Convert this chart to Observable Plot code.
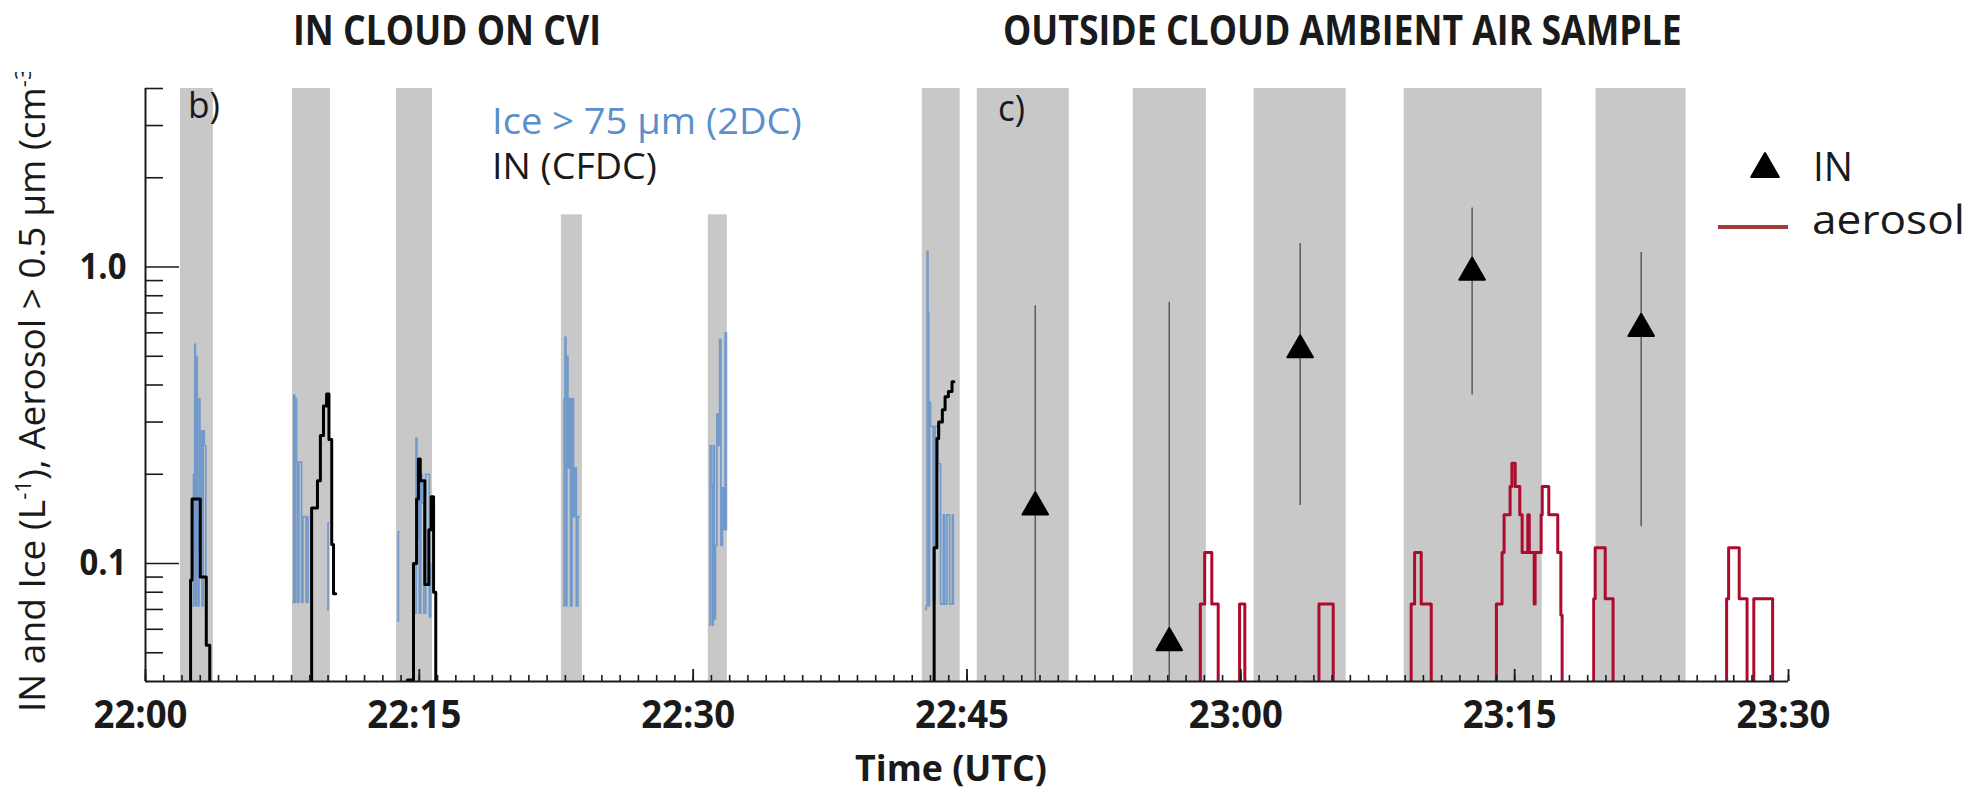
<!DOCTYPE html>
<html><head><meta charset="utf-8">
<script src="https://cdn.jsdelivr.net/npm/d3@7"></script>
<script src="https://cdn.jsdelivr.net/npm/@observablehq/plot@0.6"></script>
<style>
body{margin:0;background:#fff;}
#wrap{position:relative;width:1975px;height:793px;overflow:hidden;background:#fff;}
#wrap svg{position:absolute;left:0;top:0;}
</style></head><body><div id="wrap"></div>
<script>
// ---------- DATA (time = minutes after 22:00 UTC) ----------
// grey sampling periods
const bandStart = [1.92, 8.05, 13.75, 22.78, 30.83, 42.55, 45.56, 54.11, 60.73, 68.95, 79.46];
const bandEnd   = [3.72, 10.13, 15.72, 23.93, 31.87, 44.63, 50.60, 58.11, 65.77, 76.51, 84.39];
const bandTop   = [4, 4, 4, 1.5, 1.5, 4, 4, 4, 4, 4, 4];

// Ice > 75 µm (2DC), bursts
const iceTimes = [
  [2.60, 2.63, 2.67, 2.70, 2.73, 2.78, 2.83, 2.88, 2.93, 2.98, 3.03, 3.10, 3.16, 3.22, 3.30, 3.38],
  [8.08, 8.12, 8.17, 8.22, 8.27, 8.33, 8.40, 8.47, 8.55, 8.62, 8.70, 8.80, 8.90],
  [9.97, 10.00, 10.03],
  [13.82, 13.85, 13.88],
  [14.78, 14.82, 14.87, 14.93, 15.00, 15.08, 15.15, 15.25, 15.35, 15.45, 15.55, 15.62],
  [22.89, 22.93, 22.98, 23.03, 23.08, 23.14, 23.20, 23.28, 23.36, 23.44, 23.52, 23.60, 23.68, 23.75],
  [30.89, 30.93, 30.98, 31.04, 31.10, 31.16, 31.22, 31.30, 31.38, 31.45, 31.52, 31.60, 31.68, 31.75, 31.82],
  [42.72, 42.77, 42.82, 42.86, 42.90, 42.95, 43.00, 43.08, 43.15, 43.25, 43.40, 43.55, 43.70, 43.78, 43.90, 44.05, 44.20, 44.25]
];
const iceValues = [
  [0.072, 0.20, 0.11, 0.55, 0.072, 0.50, 0.14, 0.072, 0.36, 0.14, 0.28, 0.072, 0.28, 0.25, 0.071, 0.071],
  [0.074, 0.37, 0.074, 0.36, 0.22, 0.074, 0.22, 0.22, 0.074, 0.144, 0.144, 0.074, 0.144],
  [0.07, 0.137, 0.137],
  [0.064, 0.128, 0.128],
  [0.068, 0.265, 0.12, 0.20, 0.068, 0.20, 0.16, 0.068, 0.20, 0.20, 0.066, 0.10],
  [0.072, 0.36, 0.58, 0.072, 0.50, 0.21, 0.36, 0.072, 0.36, 0.144, 0.21, 0.072, 0.144, 0.144],
  [0.062, 0.25, 0.185, 0.062, 0.25, 0.065, 0.115, 0.32, 0.25, 0.57, 0.115, 0.18, 0.13, 0.60, 0.13],
  [0.07, 0.072, 1.13, 0.70, 0.072, 0.35, 0.29, 0.29, 0.075, 0.29, 0.217, 0.073, 0.146, 0.073, 0.146, 0.073, 0.146, 0.073]
];

// IN (CFDC) in cloud, bursts
const cfdcTimes = [
  [2.42, 2.47, 2.55, 3.00, 3.33, 3.52],
  [8.88, 9.10, 9.42, 9.58, 9.75, 9.92, 10.05, 10.20, 10.30, 10.42],
  [14.35, 14.60, 14.68, 14.85, 14.95, 15.05, 15.30, 15.52, 15.65, 15.78, 15.90],
  [43.12, 43.20, 43.35, 43.45, 43.65, 43.80, 43.98, 44.18, 44.28]
];
const cfdcValues = [
  [0.03, 0.088, 0.165, 0.09, 0.053, 0.03],
  [0.03, 0.154, 0.19, 0.27, 0.34, 0.373, 0.262, 0.116, 0.079, 0.079],
  [0.0405, 0.0405, 0.10, 0.165, 0.225, 0.19, 0.085, 0.13, 0.168, 0.08, 0.03],
  [0.03, 0.113, 0.264, 0.30, 0.33, 0.365, 0.38, 0.41, 0.41]
];

// IN outside cloud (triangles with error bars)
const inTime  = [48.74, 56.08, 63.25, 72.67, 81.93];
const inValue = [0.155, 0.054, 0.525, 0.96, 0.62];
const inLow   = [0.03, 0.03, 0.157, 0.37, 0.133];
const inHigh  = [0.74, 0.76, 1.2, 1.58, 1.12];

// aerosol > 0.5 µm (cm-3), step series
const aeroTime = [57.60, 57.78, 58.02, 58.41, 58.76, 59.93, 60.22, 64.28, 65.06, 69.33, 69.52, 69.88, 70.43,
  74.00, 74.31, 74.42, 74.75, 74.85, 75.03, 75.28, 75.41, 75.72, 75.80, 76.07, 76.12, 76.45, 76.51, 76.87, 77.36, 77.53, 77.60,
  79.33, 79.41, 79.96, 80.39, 86.61, 86.72, 87.30, 87.73, 88.10, 89.13];
const aeroValue = [0.03, 0.073, 0.109, 0.073, 0.03, 0.073, 0.03, 0.073, 0.03, 0.073, 0.109, 0.073, 0.03,
  0.073, 0.109, 0.146, 0.182, 0.218, 0.182, 0.146, 0.109, 0.146, 0.109, 0.073, 0.109, 0.146, 0.182, 0.146, 0.109, 0.067, 0.03,
  0.076, 0.113, 0.076, 0.03, 0.076, 0.113, 0.076, 0.03, 0.076, 0.03];

// axes
const xTickValues = [0, 15, 30, 45, 60, 75, 90];
const xTickLabels = ["22:00", "22:15", "22:30", "22:45", "23:00", "23:15", "23:30"];
const xMinorTicks = d3.range(0, 91, 1);
const yDomain = [0.04, 4];
const yTickValues = [0.1, 1];
const yTickLabels = ["0.1", "1.0"];
const yMinorTicks = [0.05, 0.06, 0.07, 0.08, 0.09, 0.2, 0.3, 0.4, 0.5, 0.6, 0.7, 0.8, 0.9, 2, 3, 4];

// ---------- CHART ----------
const W = 1975, H = 793;
const M = {left: 145, right: 187, top: 88, bottom: 112};
const plotW = W - M.left - M.right, plotH = H - M.top - M.bottom;
const FONT = "'Open Sans', 'Noto Sans', sans-serif";

const bands = bandStart.map((s, i) => ({x1: s, x2: bandEnd[i], y1: yDomain[0], y2: bandTop[i]}));
const ice = iceTimes.flatMap((ts, k) => ts.map((t, i) => ({t, v: iceValues[k][i], s: k})));
const cfdc = cfdcTimes.flatMap((ts, k) => ts.map((t, i) => ({t, v: cfdcValues[k][i], s: k})));
const inPts = inTime.map((t, i) => ({t, v: inValue[i], lo: inLow[i], hi: inHigh[i]}));
const aero = aeroTime.map((t, i) => ({t, v: aeroValue[i]}));
const ink = "#1a1a1a";

const chart = Plot.plot({
  width: W, height: H,
  marginLeft: M.left, marginRight: M.right, marginTop: M.top, marginBottom: M.bottom,
  x: {domain: [0, 90]},
  y: {type: "log", domain: yDomain},
  style: {fontFamily: FONT, background: "transparent", color: ink},
  marks: [
    Plot.rect(bands, {x1: "x1", x2: "x2", y1: "y1", y2: "y2", fill: "#c8c8c8"}),
    Plot.ruleX(inPts, {x: "t", y1: "lo", y2: "hi", stroke: "#5a5a5a", strokeWidth: 1.5, clip: true}),
    Plot.line(ice, {x: "t", y: "v", z: "s", curve: "step-after", stroke: "#5b8fcc", strokeOpacity: 0.8, strokeWidth: 1.7, clip: true}),
    Plot.line(cfdc, {x: "t", y: "v", z: "s", curve: "step-after", stroke: "#000", strokeWidth: 3, clip: true}),
    Plot.line(aero, {x: "t", y: "v", curve: "step-after", stroke: "#ad0a2e", strokeWidth: 3, clip: true}),
    Plot.dot(inPts, {x: "t", y: "v", symbol: d3.symbolTriangle, r: 9.5, fill: "#000", stroke: "#000", strokeWidth: 2, strokeLinejoin: "round"}),
    Plot.tickY(yMinorTicks, {y: d => d, insetRight: plotW - 18, stroke: ink, strokeWidth: 1.6}),
    Plot.tickY(yTickValues, {y: d => d, insetRight: plotW - 34, stroke: ink, strokeWidth: 1.4}),
    Plot.tickX(xMinorTicks, {x: d => d, insetTop: plotH - 6, stroke: ink, strokeWidth: 1.6}),
    Plot.tickX(xTickValues, {x: d => d, insetTop: plotH - 12, stroke: ink, strokeWidth: 1.8}),
    Plot.ruleX([0], {stroke: ink, strokeWidth: 2}),
    Plot.ruleY([yDomain[0]], {stroke: ink, strokeWidth: 2.2}),
    Plot.axisX(xTickValues, {tickFormat: d => xTickLabels[xTickValues.indexOf(d)], tickSize: 0, tickPadding: 19,
      fontSize: 39, fontWeight: "bold", label: null, dx: -5}),
    Plot.axisY(yTickValues, {tickFormat: d => yTickLabels[yTickValues.indexOf(d)], tickSize: 0, tickPadding: 19,
      fontSize: 36, fontWeight: "bold", label: null})
  ]
});

const wrap = document.getElementById("wrap");
wrap.append(chart);

// squeeze axis tick labels horizontally (condensed face in the original)
function squeezeAxis(selector, sample, target) {
  const nodes = [...chart.querySelectorAll(selector)];
  const ref = nodes.find(n => n.textContent === sample) || nodes[0];
  if (!ref) return;
  const s = target / ref.getComputedTextLength();
  for (const n of nodes) {
    const tr = n.getAttribute("transform") || "";
    n.setAttribute("transform", `${tr} scale(${s},1)`);
    const x = n.getAttribute("x");
    if (x !== null && !isNaN(+x)) n.setAttribute("x", +x / s);
  }
}
squeezeAxis('g[aria-label="x-axis tick label"] text', "22:15", 94);
squeezeAxis('g[aria-label="y-axis tick label"] text', "0.1", 47);

// ---------- OVERLAY TEXT ----------
const ov = d3.select(wrap).append("svg").attr("width", W).attr("height", H).attr("font-family", FONT);
ov.append("defs").append("clipPath").attr("id", "ylabclip")
  .append("rect").attr("x", 0).attr("y", 72).attr("width", 130).attr("height", H - 72);

function label(parent, {x, y, parts, size, weight = "normal", fill = ink, anchor = "start", rotate = 0}) {
  const g = parent.append("g");
  const t = g.append("text").attr("font-size", size).attr("font-weight", weight)
    .attr("fill", fill).attr("text-anchor", anchor);
  for (const p of parts) {
    if (typeof p === "string") t.append("tspan").text(p);
    else t.append("tspan").attr("baseline-shift", "super").attr("font-size", size * 0.6).text(p.sup);
  }
  const place = s => g.attr("transform", `translate(${x},${y})${rotate ? ` rotate(${rotate})` : ""} scale(${s},1)`);
  place(1);
  return {t, place, width: () => t.node().getComputedTextLength()};
}
function fit(lbl, target) { const s = target / lbl.width(); lbl.place(s); return s; }

const t1 = label(ov, {x: 293, y: 45, parts: ["IN CLOUD ON CVI"], size: 42, weight: "bold"});
const sTitle = fit(t1, 308);
const t2 = label(ov, {x: 1003, y: 45, parts: ["OUTSIDE CLOUD AMBIENT AIR SAMPLE"], size: 42, weight: "bold"});
t2.place(sTitle);

fit(label(ov, {x: 492, y: 134, parts: ["Ice > 75 µm (2DC)"], size: 36, fill: "#5b8fcc"}), 310);
fit(label(ov, {x: 492, y: 179, parts: ["IN (CFDC)"], size: 36}), 165);
fit(label(ov, {x: 188, y: 118, parts: ["b)"], size: 36}), 32);
fit(label(ov, {x: 998, y: 121, parts: ["c)"], size: 36}), 27);

// legend (right)
ov.append("path").attr("d", d3.symbol(d3.symbolTriangle, 330)()).attr("transform", "translate(1765,169)")
  .attr("fill", "#000").attr("stroke", "#000").attr("stroke-width", 2).attr("stroke-linejoin", "round");
fit(label(ov, {x: 1813, y: 181, parts: ["IN"], size: 40}), 40);
ov.append("line").attr("x1", 1718).attr("x2", 1788).attr("y1", 227).attr("y2", 227)
  .attr("stroke", "#a33b3b").attr("stroke-width", 4);
fit(label(ov, {x: 1812, y: 234, parts: ["aerosol"], size: 40}), 153);

// axis title
fit(label(ov, {x: 951, y: 781, parts: ["Time (UTC)"], size: 36, weight: "bold", anchor: "middle"}), 192);

// y-axis title (clipped at the top as in the original)
const yg = ov.append("g").attr("clip-path", "url(#ylabclip)");
const yl = label(yg, {x: 45, y: 712, rotate: -90, size: 36,
  parts: ["IN and Ice (L", {sup: "-1"}, "), Aerosol > 0.5 µm (cm", {sup: "-3"}, ")"]});
const prefixLen = ("IN and Ice (L" + "-1" + "), Aerosol > 0.5 µm (cm").length;
yl.place(625 / yl.t.node().getSubStringLength(0, prefixLen));
</script>
</body></html>
